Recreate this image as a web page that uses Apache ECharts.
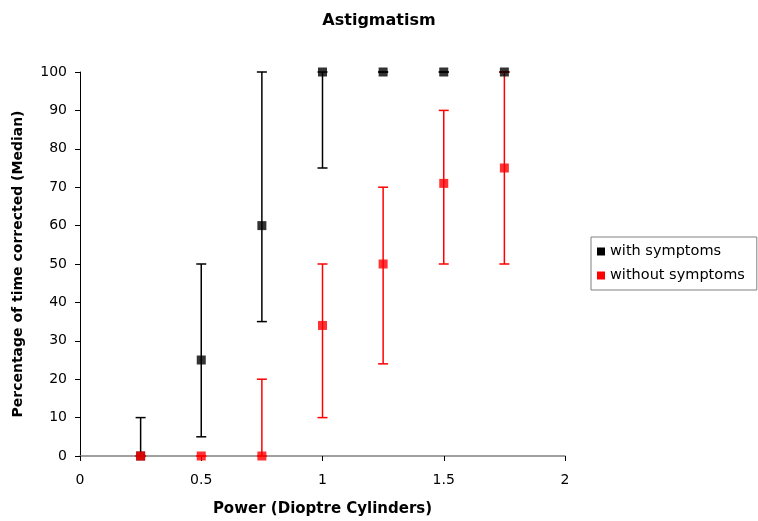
<!DOCTYPE html>
<html><head><meta charset="utf-8">
<script src="https://cdn.jsdelivr.net/npm/echarts@6/dist/echarts.min.js"></script>
<style>html,body{margin:0;padding:0;background:#fff}#c{width:758px;height:521px}</style>
</head><body><div id="c"></div>
<script>
var powers = [0.25, 0.5, 0.75, 1, 1.25, 1.5, 1.75];
var withMedian = [0, 25, 60, 100, 100, 100, 100];
var withLow    = [0, 5, 35, 75, 100, 100, 100];
var withHigh   = [10, 50, 100, 100, 100, 100, 100];
var withoutMedian = [0, 0, 0, 34, 50, 71, 75];
var withoutLow    = [0, 0, 0, 10, 24, 50, 50];
var withoutHigh   = [0, 0, 20, 50, 70, 90, 100];

function pts(med){ return powers.map(function(p,i){return [p, med[i]];}); }
function bars(lo,hi){ return powers.map(function(p,i){return [p, lo[i], hi[i]];}); }
function errRender(color){
  return function(params, api){
    var x = api.value(0), lo = api.value(1), hi = api.value(2);
    var a = api.coord([x, hi]), b = api.coord([x, lo]);
    var hw = 5;
    var st = {stroke: color, lineWidth: 1.5};
    return {type:'group', children:[
      {type:'line', shape:{x1:a[0],y1:a[1],x2:b[0],y2:b[1]}, style:st},
      {type:'line', shape:{x1:a[0]-hw,y1:a[1],x2:a[0]+hw,y2:a[1]}, style:st},
      {type:'line', shape:{x1:b[0]-hw,y1:b[1],x2:b[0]+hw,y2:b[1]}, style:st}
    ]};
  };
}
var chart = echarts.init(document.getElementById('c'), null, {renderer:'canvas'});
var font = 'DejaVu Sans, sans-serif';
chart.setOption({
  animation:false,
  textStyle:{fontFamily:font},
  title:{text:'Astigmatism', left:'center', top:8, textStyle:{fontSize:16, fontWeight:'bold', color:'#000', fontFamily:font}},
  grid:{left:80, right:193, top:72, bottom:65, containLabel:false, outerBoundsMode:'none'},
  legend:{orient:'vertical', left:591, top:237, padding:[7,12,7,6], itemGap:9,
    borderColor:'#808080', borderWidth:1, itemWidth:8, itemHeight:8, icon:'rect',
    textStyle:{fontSize:14.5, color:'#000', fontFamily:font, padding:[0,0,0,0]},
    data:['with symptoms','without symptoms']},
  xAxis:{type:'value', min:0, max:2, interval:0.5,
    name:'Power (Dioptre Cylinders)', nameLocation:'middle', nameGap:46,
    nameTextStyle:{fontSize:15, fontWeight:'bold', color:'#000', fontFamily:font},
    axisLine:{lineStyle:{color:'#808080', width:1.5}},
    axisTick:{show:true, length:5, lineStyle:{color:'#000'}},
    axisLabel:{fontSize:14, color:'#000', margin:17, fontFamily:font},
    splitLine:{show:false}},
  yAxis:{type:'value', min:0, max:100, interval:10,
    name:'Percentage of time corrected (Median)', nameLocation:'middle', nameGap:55,
    nameTextStyle:{fontSize:14, fontWeight:'bold', color:'#000', fontFamily:font},
    axisLine:{show:true, lineStyle:{color:'#000', width:1}},
    axisTick:{show:true, length:5, lineStyle:{color:'#000'}},
    axisLabel:{fontSize:14, color:'#000', margin:13, fontFamily:font},
    splitLine:{show:false}},
  series:[
    {type:'custom', name:'with symptoms', renderItem:errRender('#000'), data:bars(withLow,withHigh),
      encode:{x:0, y:[1,2]}, z:2, itemStyle:{color:'#000'}},
    {type:'custom', name:'without symptoms', renderItem:errRender('#ff0000'), data:bars(withoutLow,withoutHigh),
      encode:{x:0, y:[1,2]}, z:2, itemStyle:{color:'#ff0000'}},
    {type:'scatter', name:'with symptoms', symbol:'rect', symbolSize:9, data:pts(withMedian),
      itemStyle:{color:'#000'}, z:3},
    {type:'scatter', name:'without symptoms', symbol:'rect', symbolSize:9, data:pts(withoutMedian),
      itemStyle:{color:'#ff0000'}, z:3}
  ]
});
</script></body></html>
